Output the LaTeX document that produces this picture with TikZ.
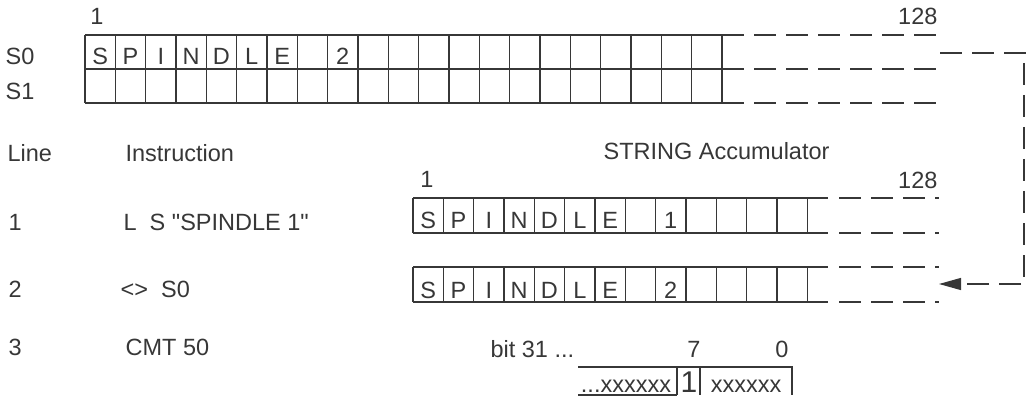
\documentclass[tikz,border=0pt]{standalone}
\usepackage{fontspec}
\setmainfont{Liberation Sans}
\newfontfamily\recto{Liberation Sans}
\usetikzlibrary{arrows.meta}
\definecolor{tinta}{RGB}{55,55,55}

\begin{document}
\begin{tikzpicture}[x=1pt, y=-1pt, line width=1.2pt, draw=tinta,
    every node/.style={font=\fontsize{23.5}{27}\selectfont, text=tinta, inner sep=0pt},
    rasgo/.style={dash pattern=on 22pt off 10pt},
    flecha/.style={-{Triangle[length=22pt,width=12pt]}}]
    \useasboundingbox (0,0) rectangle (1026,401);
    % registros S0 / S1
    \node[anchor=base] (n1) at (97,25) {1};
    \node[anchor=base east] (n128) at (938,25) {128};
    \node[anchor=base west] (s0) at (5,65) {S0};
    \node[anchor=base west] (s1) at (5,100) {S1};
    \foreach \y in {35,69,103} {
        \draw (85,\y)--(744,\y);
        \draw[rasgo] (754,\y)--(937,\y);
    }
    \foreach \i in {0,...,21} \draw (85+\i*30.33,35)--(85+\i*30.33,103);
    \foreach \c [count=\i] in {S,P,I,N,D,L,E,{},2}
        \node[anchor=base] (s0c\i) at (85+\i*30.33-15.2,65) {\c};
    % tabla
    \node[anchor=base west] (linea) at (7,162) {Line};
    \node[anchor=base west] (instr) at (125,162) {Instruction};
    \node[anchor=base west] (acum) at (603,160) {STRING Accumulator};
    \node[anchor=base west] (l1) at (8,230) {1};
    \node[anchor=base west] (i1) at (123,230) {\recto L\ \ S "SPINDLE 1"};
    \node[anchor=base west] (l2) at (8,297) {2};
    \node[anchor=base west] (i2) at (120,297) {<>\ \ S0};
    \node[anchor=base west] (l3) at (8,355) {3};
    \node[anchor=base west] (i3) at (125,355) {CMT 50};
    % acumulador
    \node[anchor=base] (a1) at (427,188) {1};
    \node[anchor=base east] (a128) at (938,189) {128};
    \foreach \y in {198,233,267,302} {
        \draw (413,\y)--(828,\y);
        \draw[rasgo] (839,\y)--(939,\y);
    }
    \foreach \i in {0,...,13} {
        \draw (413+\i*30.33,198)--(413+\i*30.33,233);
        \draw (413+\i*30.33,267)--(413+\i*30.33,302);
    }
    \foreach \c [count=\i] in {S,P,I,N,D,L,E,{},1}
        \node[anchor=base] (r1c\i) at (413+\i*30.33-15.2,229) {\c};
    \foreach \c [count=\i] in {S,P,I,N,D,L,E,{},2}
        \node[anchor=base] (r2c\i) at (413+\i*30.33-15.2,298) {\c};
    % conector
    \coordinate (desde) at (940,53);
    \coordinate (esq1) at (1024,53);
    \coordinate (esq2) at (1024,284);
    \coordinate (hasta) at (939,284);
    \draw[rasgo] (desde)--(1026,53);
    \draw[rasgo,flecha] (1024,63)--(esq2)--(hasta);
    % CMT
    \node[anchor=base west] (bit) at (490,357) {bit 31 ...};
    \node[anchor=base] (b7) at (694,357) {7};
    \node[anchor=base] (b0) at (782,357) {0};
    \draw (578,367)--(792,367)--(792,395);
    \draw (677,367)--(677,395);
    \draw (700,367)--(700,395);
    \draw (578,395)--(677,395);
    \node[anchor=base] (bx) at (626,392) {...xxxxxx};
    \node[anchor=base, font=\fontsize{30}{34}\selectfont] (b1) at (689,392) {1};
    \node[anchor=base] (by) at (746,392) {xxxxxx};
\end{tikzpicture}
\end{document}
